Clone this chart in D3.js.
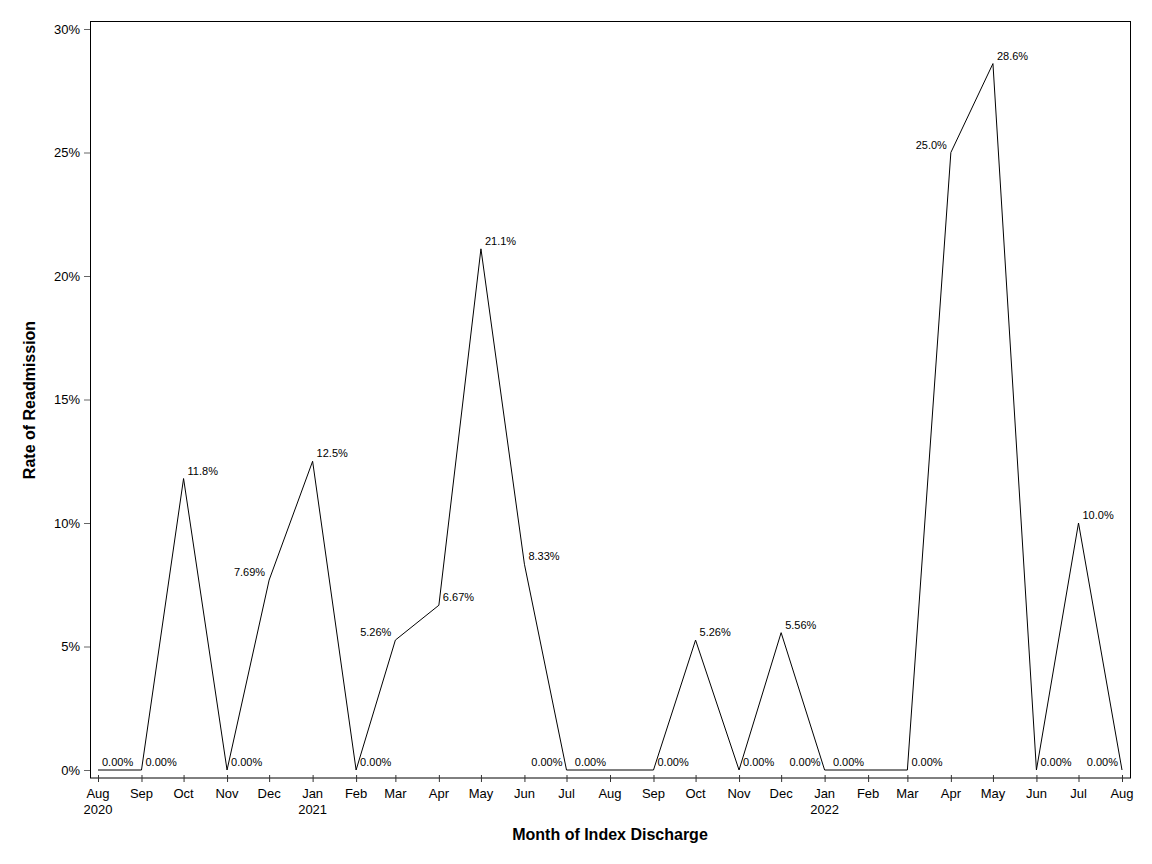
<!DOCTYPE html>
<html><head><meta charset="utf-8">
<script src="https://cdn.jsdelivr.net/npm/d3@7"></script>
<style>body{margin:0;background:#fff;font-family:"Liberation Sans",Arial,sans-serif;}</style>
</head><body><svg id="c" width="1152" height="864"></svg>
<script>
const months = ["2020-08","2020-09","2020-10","2020-11","2020-12","2021-01","2021-02","2021-03","2021-04","2021-05","2021-06","2021-07","2021-08","2021-09","2021-10","2021-11","2021-12","2022-01","2022-02","2022-03","2022-04","2022-05","2022-06","2022-07","2022-08"];
const rates = [0,0,11.8,0,7.69,12.5,0,5.26,6.67,21.1,8.33,0,0,0,5.26,0,5.56,0,0,0,25.0,28.6,0,10.0,0];
const rateLabels = ["0.00%","0.00%","11.8%","0.00%","7.69%","12.5%","0.00%","5.26%","6.67%","21.1%","8.33%","0.00%","0.00%","0.00%","5.26%","0.00%","5.56%","0.00%","0.00%","0.00%","25.0%","28.6%","0.00%","10.0%","0.00%"];
const labelSide = ["R","R","R","R","L","R","R","L","R","R","R","L","L","R","R","R","R","L","L","R","L","R","R","R","L"];
const yTicks = [0,5,10,15,20,25,30];
const monthNames = ["Jan","Feb","Mar","Apr","May","Jun","Jul","Aug","Sep","Oct","Nov","Dec"];

const parse = d3.timeParse("%Y-%m");
const dates = months.map(parse);
const svg = d3.select("#c");
const x = d3.scaleTime().domain([dates[0], dates[dates.length-1]]).range([98,1122]);
const y = d3.scaleLinear().domain([0,30]).range([770,29]);
const font = '"Liberation Sans",Arial,sans-serif';

// frame
svg.append("rect").attr("x",90.5).attr("y",21.5).attr("width",1040).attr("height",756.5)
  .attr("fill","none").attr("stroke","#000").attr("stroke-width",1);

// y axis
const ya = svg.append("g").attr("transform","translate(90,0)")
  .call(d3.axisLeft(y).tickValues(yTicks).tickSize(6).tickFormat(d=>d+"%"));
ya.select(".domain").remove();
ya.selectAll(".tick line").attr("stroke","#666");
ya.selectAll("text").attr("font-family",font).attr("font-size",13).attr("fill","#000").attr("x",-10);

// x axis
const xa = svg.append("g").attr("transform","translate(0,778)")
  .call(d3.axisBottom(x).tickValues(dates).tickSize(4).tickFormat(""));
xa.select(".domain").remove();
xa.selectAll(".tick line").attr("stroke","#333").attr("y1",-3).attr("y2",4);
const tl = svg.append("g");
dates.forEach((d,i)=>{
  const t = tl.append("text").attr("x",x(d)).attr("y",798).attr("text-anchor","middle")
    .attr("font-family",font).attr("font-size",13).attr("fill","#000");
  t.append("tspan").attr("x",x(d)).text(monthNames[d.getMonth()]);
  if(i===0 || d.getMonth()===0){
    t.append("tspan").attr("x",x(d)).attr("dy",16).text(d.getFullYear());
  }
});

// line
svg.append("path").datum(rates)
  .attr("d", d3.line().x((d,i)=>x(dates[i])).y(d=>y(d)))
  .attr("fill","none").attr("stroke","#000").attr("stroke-width",1);

// labels
svg.append("g").selectAll("text").data(rates).join("text")
  .attr("x",(d,i)=> labelSide[i]==="R" ? x(dates[i])+4 : x(dates[i])-4)
  .attr("y",(d)=> y(d)-4)
  .attr("text-anchor",(d,i)=> labelSide[i]==="R" ? "start" : "end")
  .attr("font-family",font).attr("font-size",11).attr("fill","#000")
  .text((d,i)=>rateLabels[i]);

// titles
svg.append("text").attr("x",610).attr("y",840).attr("text-anchor","middle")
  .attr("font-family",font).attr("font-size",16).attr("font-weight","bold").text("Month of Index Discharge");
svg.append("text").attr("transform","translate(35,400) rotate(-90)").attr("text-anchor","middle")
  .attr("font-family",font).attr("font-size",16).attr("font-weight","bold").text("Rate of Readmission");
</script></body></html>
